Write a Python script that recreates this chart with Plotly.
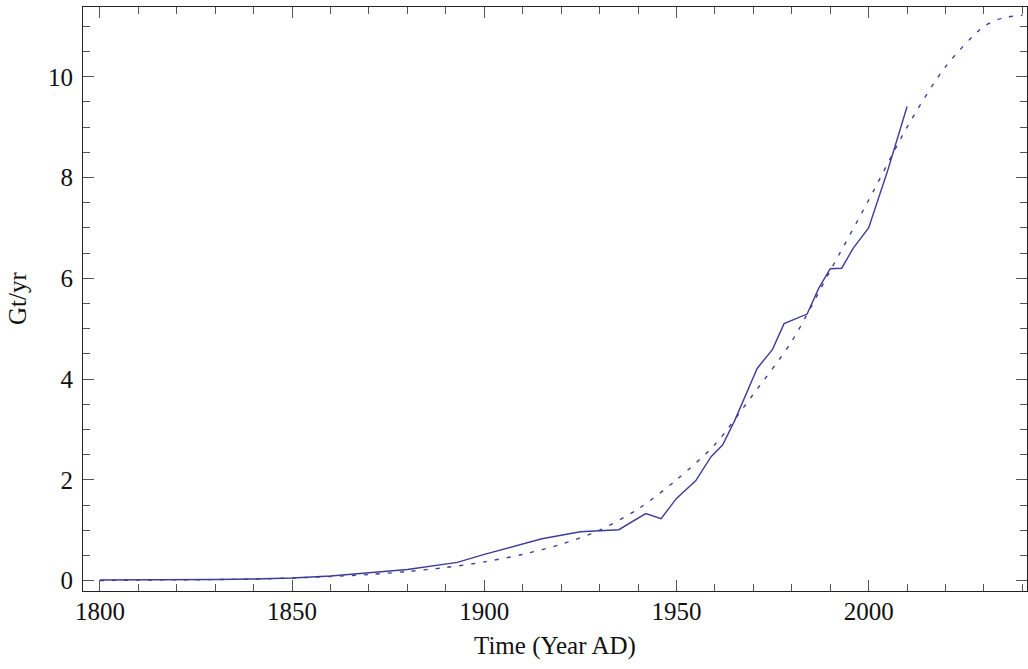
import plotly.graph_objects as go

# Annual fossil carbon emissions (Gt/yr), historical record
hist_years = [1800, 1810, 1820, 1830, 1840, 1850, 1860, 1870, 1880, 1893,
              1900, 1915, 1925, 1935, 1942, 1946, 1950, 1955, 1959, 1962,
              1965, 1971, 1975, 1978, 1984, 1987, 1990, 1993, 1996, 2000,
              2005, 2010]
hist_values = [0.01, 0.01, 0.015, 0.02, 0.03, 0.05, 0.09, 0.15, 0.22, 0.36,
               0.52, 0.83, 0.97, 1.01, 1.33, 1.23, 1.63, 1.98, 2.46, 2.69,
               3.15, 4.21, 4.59, 5.10, 5.29, 5.80, 6.19, 6.20, 6.60, 7.00,
               8.15, 9.41]

# Fitted emission curve extended to 2040
fit_years = [1800, 1810, 1820, 1830, 1840, 1850, 1860, 1870, 1880, 1890,
             1900, 1910, 1920, 1930, 1940, 1950, 1960, 1970, 1980, 1990,
             2000, 2010, 2020, 2030, 2035, 2040]
fit_values = [0.0, 0.01, 0.015, 0.02, 0.03, 0.05, 0.08, 0.12, 0.18, 0.26,
              0.37, 0.52, 0.72, 1.0, 1.42, 2.0, 2.7, 3.7, 4.75, 6.15,
              7.55, 9.0, 10.2, 11.0, 11.17, 11.22]

x_ticks = [1800, 1850, 1900, 1950, 2000]
y_ticks = [0, 2, 4, 6, 8, 10]

LINE = "#3d3d99"
FONT = "Liberation Serif"
FSIZE = 25

fig = go.Figure()
fig.add_trace(go.Scatter(x=hist_years, y=hist_values, mode="lines",
                         line=dict(color=LINE, width=1.4)))
fig.add_trace(go.Scatter(x=fit_years, y=fit_values, mode="lines",
                         line=dict(color=LINE, width=1.4, dash="4px,8px",
                                   shape="spline", smoothing=0.8)))

axis_common = dict(
    showgrid=False, zeroline=False, showline=True, linecolor="#222",
    linewidth=1, mirror="allticks", ticks="inside", tickcolor="#555",
    ticklen=11, tickwidth=1,
    tickfont=dict(family=FONT, size=FSIZE, color="#111"),
)

fig.update_xaxes(range=[1795.6, 2041.2], tickvals=x_ticks,
                 minor=dict(dtick=10, tick0=1800, ticks="inside", ticklen=7,
                            tickcolor="#555", tickwidth=1),
                 ticklabelstandoff=-2, **axis_common)
fig.update_yaxes(range=[-0.207, 11.385], tickvals=y_ticks,
                 minor=dict(dtick=0.5, tick0=0, ticks="inside", ticklen=7,
                            tickcolor="#555", tickwidth=1),
                 ticklabelstandoff=4, **axis_common)

fig.update_layout(
    width=1028, height=669,
    margin=dict(l=83, r=1, t=7, b=78),
    paper_bgcolor="white", plot_bgcolor="white",
    showlegend=False,
    annotations=[
        dict(text="Time (Year AD)", xref="paper", yref="paper", x=0.5, y=0,
             xanchor="center", yanchor="middle", yshift=-55, showarrow=False,
             font=dict(family=FONT, size=FSIZE, color="#111")),
        dict(text="Gt/yr", xref="paper", yref="paper", x=0, y=0.5,
             xanchor="center", yanchor="middle", xshift=-66, textangle=-90,
             showarrow=False, font=dict(family=FONT, size=FSIZE, color="#111")),
    ],
)

fig.write_html("out.html")
